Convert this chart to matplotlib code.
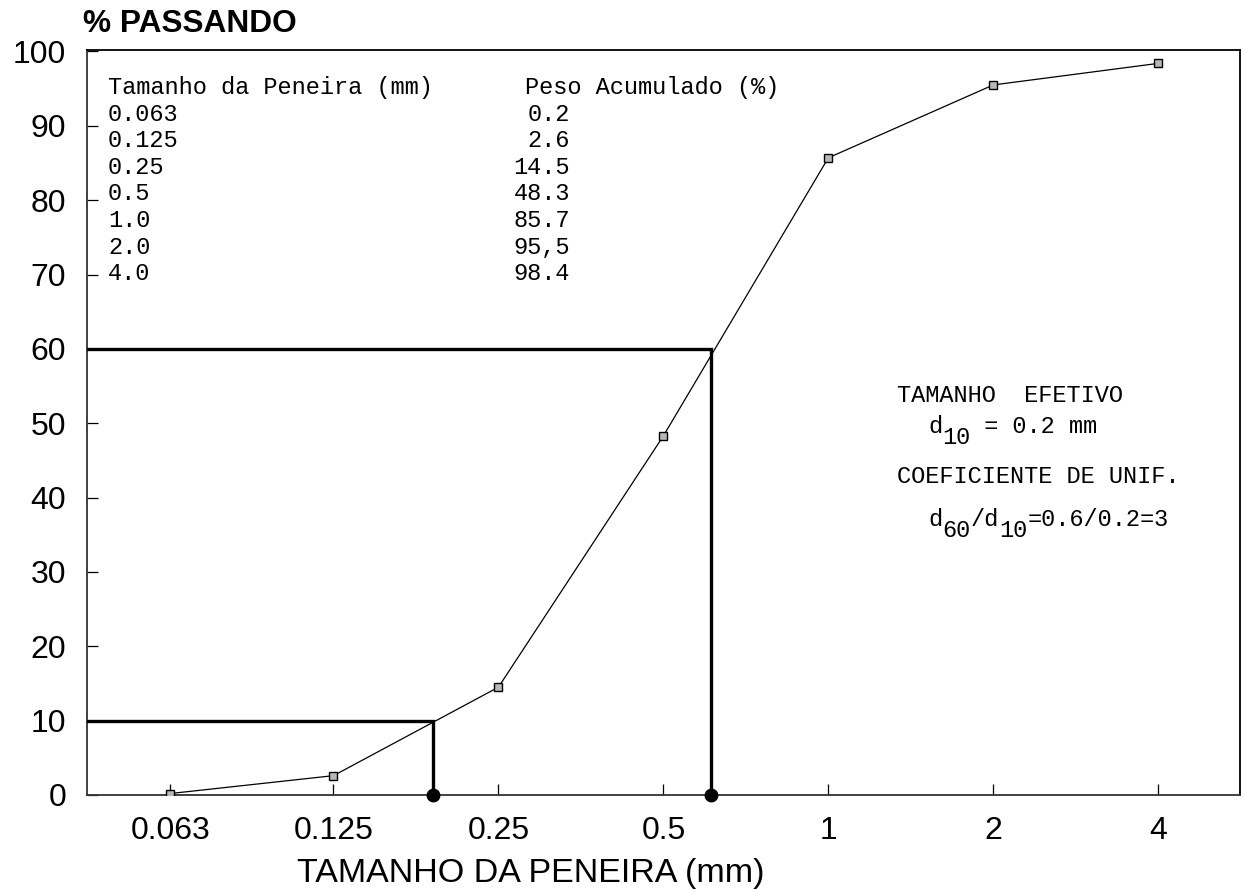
import matplotlib
matplotlib.use('Agg')
import matplotlib.pyplot as plt
from matplotlib.ticker import NullLocator

# ---------------- data ----------------
sieve_mm = [0.063, 0.125, 0.25, 0.5, 1.0, 2.0, 4.0]
passing_pct = [0.2, 2.6, 14.5, 48.3, 85.7, 95.5, 98.4]
x_tick_labels = ['0.063', '0.125', '0.25', '0.5', '1', '2', '4']
y_ticks = [0, 10, 20, 30, 40, 50, 60, 70, 80, 90, 100]

table_header_left = 'Tamanho da Peneira (mm)'
table_header_right = 'Peso Acumulado (%)'
table_sieve_labels = ['0.063', '0.125', '0.25', '0.5', '1.0', '2.0', '4.0']
table_weight_labels = ['0.2', '2.6', '14.5', '48.3', '85.7', '95,5', '98.4']

d10_mm = 0.19      # read position of the 10 % guide line
d60_mm = 0.61      # read position of the 60 % guide line
d10_pct = 10
d60_pct = 60

y_title = '% PASSANDO'
x_title = 'TAMANHO DA PENEIRA (mm)'
note_title_1 = 'TAMANHO  EFETIVO'
note_title_2 = 'COEFICIENTE DE UNIF.'
# pieces: (text, is_subscript)
note_line_1 = [('d', False), ('10', True), (' = 0.2 mm', False)]
note_line_2 = [('d', False), ('60', True), ('/d', False), ('10', True), ('=0.6/0.2=3', False)]

# ---------------- style ----------------
plt.rcParams['font.family'] = ['Liberation Sans', 'DejaVu Sans']

W, H = 1244, 890
fig = plt.figure(figsize=(W / 100, H / 100), dpi=100)


def fx(px):
    return px / W


def fy(py):
    return 1 - py / H


ax = fig.add_axes([fx(87), fy(795), fx(1240) - fx(87), fy(50) - fy(795)])
ax.set_xscale('log', base=2)
xmin, xmax = 0.04437, 5.64
ax.set_xlim(xmin, xmax)
ax.set_ylim(0, 100.2)

# curve
ax.plot(sieve_mm, passing_pct, color='black', lw=0.9, marker='s', ms=6,
        mfc='#b8b8b8', mec='black', mew=1.0, zorder=3)

# guide lines
for dx, dy in [(d10_mm, d10_pct), (d60_mm, d60_pct)]:
    ax.plot([xmin, dx, dx], [dy, dy, 0], color='black', lw=2.4,
            solid_joinstyle='miter', zorder=4)
ax.plot([d10_mm, d60_mm], [0, 0], 'o', color='black', ms=9, clip_on=False, zorder=5)

# ticks
ax.set_xticks(sieve_mm)
ax.set_xticklabels(x_tick_labels)
ax.xaxis.set_minor_locator(NullLocator())
ax.set_yticks(y_ticks)
ax.tick_params(direction='in', length=8, width=0.9, labelsize=23, colors='black')
ax.tick_params(axis='x', pad=15)
ax.tick_params(axis='y', pad=15)
for s in ax.spines.values():
    s.set_linewidth(1.3)
    s.set_color('black')
ax.spines['left'].set_color('#333333')
ax.spines['bottom'].set_color('#333333')

# titles
fig.text(fx(83), fy(32), y_title, fontsize=22.8, fontweight='bold', ha='left', va='baseline')
fig.text(fx(531), fy(882), x_title, fontsize=24.5, ha='center', va='baseline')

# table
mono = 'Liberation Mono'
tfs = 17
adv = tfs * 100 / 72 * 0.6   # monospace advance in pixels
fig.text(fx(108), fy(94), table_header_left, family=mono, fontsize=tfs, ha='left', va='baseline')
fig.text(fx(525), fy(94), table_header_right, family=mono, fontsize=tfs, ha='left', va='baseline')
for k, (a, b) in enumerate(zip(table_sieve_labels, table_weight_labels)):
    yb = 94 + 26.6 * (k + 1)
    fig.text(fx(108), fy(yb), a, family=mono, fontsize=tfs, ha='left', va='baseline')
    fig.text(fx(570), fy(yb), b, family=mono, fontsize=tfs, ha='right', va='baseline')

# notes
fig.text(fx(897), fy(402), note_title_1, family=mono, fontsize=tfs, ha='left', va='baseline')
fig.text(fx(897), fy(483), note_title_2, family=mono, fontsize=tfs, ha='left', va='baseline')


def piece_line(x0, yb, pieces):
    x = x0
    for txt, sub in pieces:
        fig.text(fx(x), fy(yb + (11 if sub else 0)), txt, family=mono,
                 fontsize=tfs, ha='left', va='baseline')
        x += adv * len(txt)


piece_line(928, 433, note_line_1)
piece_line(928, 526, note_line_2)

fig.savefig('out.png', dpi=100, facecolor='white')
